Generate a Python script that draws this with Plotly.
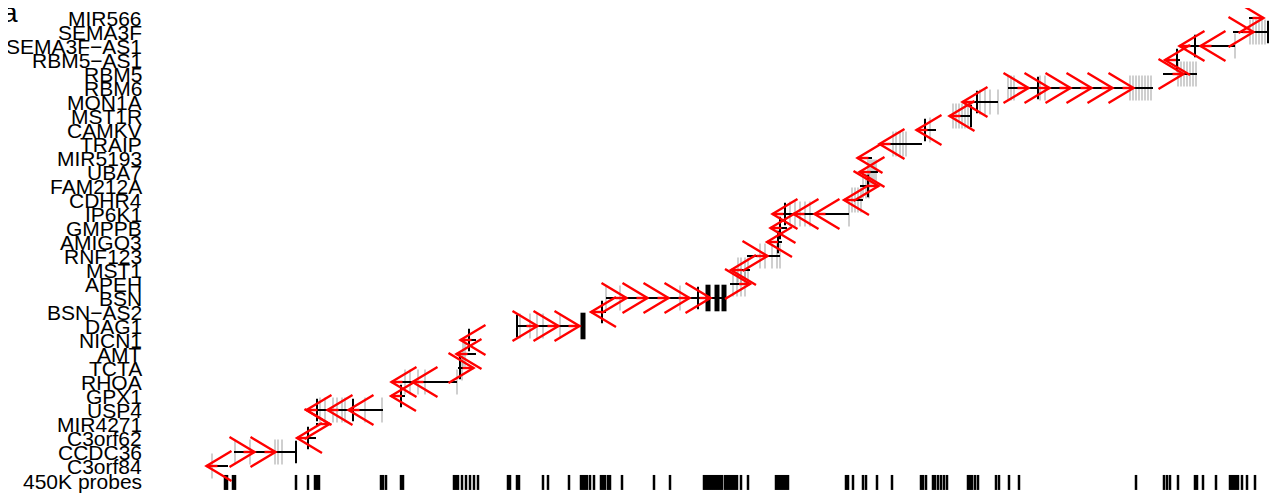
import plotly.graph_objects as go

# ---------------- data (positions in kb from region start, rows bottom->top) ----------------
gene_names = ["C3orf84", "CCDC36", "C3orf62", "MIR4271", "USP4", "GPX1", "RHOA", "TCTA", "AMT",
              "NICN1", "DAG1", "BSN−AS2", "BSN", "APEH", "MST1", "RNF123", "AMIGO3", "GMPPB",
              "IP6K1", "CDHR4", "FAM212A", "UBA7", "MIR5193", "TRAIP", "CAMKV", "MST1R", "MON1A",
              "RBM6", "RBM5", "RBM5−AS1", "SEMA3F−AS1", "SEMA3F", "MIR566"]
gene_start = [10, 34, 103, 116, 117, 202, 202, 258, 262, 270, 317, 401, 406, 530, 537, 547, 577, 579,
              583, 650, 660, 666, 668, 690, 722, 753, 773, 808, 963, 975, 990, 1033, 1049]
gene_end = [28, 96, 116, 118, 183, 205, 257, 264, 276, 276, 383, 406, 527, 545, 550, 580, 582, 587,
            649, 663, 672, 678, 672, 722, 736, 771, 798, 953, 997, 980, 1035, 1069, 1053]
gene_strand = ["-", "+", "-", "+", "-", "-", "-", "+", "-", "-", "+", "-", "+", "+", "-", "+", "-", "-",
               "-", "-", "+", "-", "-", "-", "-", "-", "-", "+", "+", "-", "-", "+", "+"]
gene_exons = [[12], [35, 50, 75, 78, 82], [], [], [120, 125, 133, 137, 142, 145, 165, 182], [],
              [205, 210, 218, 225, 257], [262], [263, 265], [], [320, 330, 337, 343, 360], [],
              [406, 420, 480], [533, 537, 541, 545], [538, 541, 545, 548], [560, 565, 572, 577, 580],
              [], [], [590, 595, 600, 605, 610, 649], [652, 655, 658, 661], [663, 666, 669],
              [668, 670, 672, 674, 676], [], [693, 696, 700, 703, 706], [730],
              [753, 756, 759, 762, 765, 768], [780, 785, 790, 798],
              [808, 811, 814, 840, 845, 930, 933, 936, 939, 942, 945, 948, 951],
              [978, 981, 984, 987, 990, 993, 996], [], [1035], [1050, 1053, 1056, 1059, 1062, 1065], []]
gene_marks = [[], [96], [108], [], [117, 153], [201], [], [260], [], [269], [317], [402], [498], [], [],
              [], [578], [580], [585], [], [668], [], [], [], [725], [771], [777], [838], [], [977],
              [995], [1068], []]
gene_blocks = [[], [], [], [], [], [], [], [], [], [], [383], [], [508, 517, 524], [], [], [], [], [],
               [], [], [], [], [], [], [], [], [], [], [], [], [], [], []]

probe_pos = [25, 27, 33, 35, 96, 108, 115, 117, 119, 181, 183, 186, 201, 203, 254, 256, 258, 262, 266,
             270, 274, 278, 308, 310, 317, 319, 343, 348, 369, 381, 383, 385, 387, 390, 394, 401, 403,
             405, 408, 410, 422, 454, 470, 504, 506, 508, 510, 512, 514, 516, 518, 520, 522, 525, 527,
             529, 531, 533, 535, 537, 541, 548, 576, 578, 580, 582, 584, 586, 588, 646, 648, 653, 663,
             666, 677, 692, 721, 723, 726, 733, 735, 738, 741, 744, 747, 768, 770, 772, 775, 778, 796,
             799, 809, 819, 936, 964, 967, 970, 978, 995, 997, 1003, 1016, 1030, 1032, 1034, 1036,
             1038, 1042, 1047, 1055]
probe_label = "450K probes"
panel_label = "a"

# ---------------- geometry / style ----------------
SP = 21.0          # chevron spacing (kb)
HW = 12.5          # chevron half-width (kb)
HH = 1.07          # chevron half-height (rows)
EXON_H = 0.9
MARK_H = 0.8
BLOCK_H = 0.95

gx, gy = [], []
bx, by = [], []
mx, my = [], []
kx, ky = [], []
rx, ry = [], []
for i, name in enumerate(gene_names):
    r = i + 1
    s, e, st = gene_start[i], gene_end[i], gene_strand[i]
    bx += [s, e, None]; by += [r, r, None]
    for p in gene_exons[i]:
        gx += [p, p, None]; gy += [r - EXON_H, r + EXON_H, None]
    for p in gene_marks[i]:
        mx += [p, p, None]; my += [r - MARK_H, r + MARK_H, None]
    for p in gene_blocks[i]:
        kx += [p, p, None]; ky += [r - BLOCK_H, r + BLOCK_H, None]
    L = e - s
    if L < SP:
        centers = [(s + e) / 2.0]
    else:
        off = 8 if st == "+" else 2
        centers = [s + off + SP * k for k in range(int(L // SP))]
    sg = 1 if st == "+" else -1
    for c in centers:
        tip, back = c + sg * HW, c - sg * HW
        rx += [back, tip, back, None]; ry += [r + HH, r, r - HH, None]
        rx += [tip - sg * 11, tip, None]; ry += [r, r, None]

px, py = [], []
for p in probe_pos:
    px += [p, p, None]; py += [0.36, -0.71, None]

fig = go.Figure()
fig.add_trace(go.Scatter(x=gx, y=gy, mode="lines", line=dict(color="rgba(110,110,110,0.5)", width=1.3),
                         hoverinfo="skip"))
fig.add_trace(go.Scatter(x=bx, y=by, mode="lines", line=dict(color="black", width=2), hoverinfo="skip"))
fig.add_trace(go.Scatter(x=mx, y=my, mode="lines", line=dict(color="black", width=2), hoverinfo="skip"))
fig.add_trace(go.Scatter(x=kx, y=ky, mode="lines", line=dict(color="black", width=5), hoverinfo="skip"))
fig.add_trace(go.Scatter(x=px, y=py, mode="lines", line=dict(color="black", width=2.5), hoverinfo="skip"))
fig.add_trace(go.Scatter(x=rx, y=ry, mode="lines", line=dict(color="#ff0000", width=2.4), hoverinfo="skip"))

# page has an 8px body margin: figure is drawn 8px right/down of the window corner
ML = 192
PW = 1070
FONT = "Liberation Sans, Arial, Helvetica, sans-serif"
LBL_X = (136 - ML) / float(PW)
annotations = []
for i, name in enumerate(gene_names):
    annotations.append(dict(x=LBL_X, xref="paper", y=i + 1, yref="y", text=name, showarrow=False,
                            xanchor="right", yanchor="middle", font=dict(family=FONT, size=21, color="black")))
annotations.append(dict(x=LBL_X, xref="paper", y=-0.14, yref="y", text=probe_label, showarrow=False,
                        xanchor="right", yanchor="middle", font=dict(family=FONT, size=21, color="black")))
annotations.append(dict(x=-ML / float(PW), xref="paper", y=472 / 14.0, yref="y",
                        text=panel_label, showarrow=False, xanchor="left", yanchor="middle",
                        xshift=-8, yshift=-4, font=dict(family=FONT, size=28, color="black")))

fig.update_layout(
    width=1269, height=492,
    margin=dict(l=ML, r=7, t=0, b=0),
    paper_bgcolor="white", plot_bgcolor="white",
    showlegend=False,
    xaxis=dict(range=[0, PW], visible=False, fixedrange=True),
    yaxis=dict(range=[-20 / 14.0, 472 / 14.0], visible=False, fixedrange=True),
    annotations=annotations,
)
fig.write_html("out.html")
